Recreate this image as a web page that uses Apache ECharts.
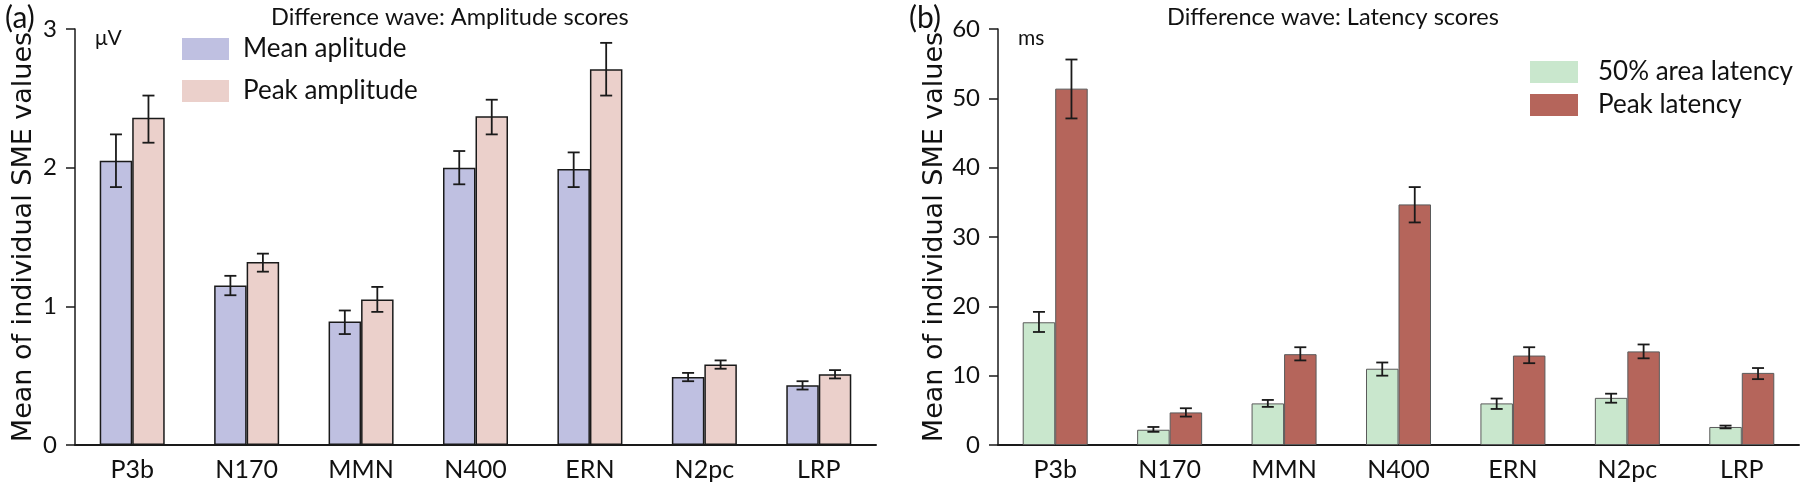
<!DOCTYPE html>
<html>
<head>
<meta charset="utf-8">
<script src="https://cdn.jsdelivr.net/npm/echarts@6/dist/echarts.min.js"></script>
<style>html,body{margin:0;padding:0;background:#fff;}#c{width:1800px;height:487px;}</style>
</head>
<body>
<div id="c"></div>
<script>
var categories = ['P3b', 'N170', 'MMN', 'N400', 'ERN', 'N2pc', 'LRP'];

var meanAmp     = [2.05, 1.15, 0.89, 2.00, 1.99, 0.49, 0.43];
var meanAmpLo   = [1.86, 1.08, 0.80, 1.88, 1.86, 0.46, 0.40];
var meanAmpHi   = [2.24, 1.22, 0.97, 2.12, 2.11, 0.52, 0.46];
var peakAmp     = [2.36, 1.32, 1.05, 2.37, 2.71, 0.58, 0.51];
var peakAmpLo   = [2.18, 1.25, 0.96, 2.24, 2.52, 0.55, 0.48];
var peakAmpHi   = [2.52, 1.38, 1.14, 2.49, 2.90, 0.61, 0.54];

var areaLat     = [17.7, 2.2, 6.0, 11.0, 6.0, 6.8, 2.6];
var areaLatLo   = [16.3, 1.9, 5.5, 10.0, 5.2, 6.1, 2.4];
var areaLatHi   = [19.2, 2.6, 6.5, 11.9, 6.7, 7.4, 2.8];
var peakLat     = [51.4, 4.7, 13.1, 34.7, 12.9, 13.5, 10.4];
var peakLatLo   = [47.1, 4.1, 12.2, 32.1, 11.8, 12.5, 9.5];
var peakLatHi   = [55.6, 5.3, 14.1, 37.2, 14.1, 14.5, 11.1];

var ampTicks = {min: 0, max: 3, interval: 1};
var latTicks = {min: 0, max: 60, interval: 10};

var BAR_W = 32.5;
var FONT = 'Lato, "Open Sans", sans-serif';

function errData(lo, hi) {
  return categories.map(function (c, i) { return [i, lo[i], hi[i]]; });
}
function errRender(offset) {
  return function (params, api) {
    var x = api.value(0), lo = api.value(1), hi = api.value(2);
    var pLo = api.coord([x, lo]), pHi = api.coord([x, hi]);
    var cx = pLo[0] + offset, cap = 6;
    var st = {stroke: '#1a1a1a', lineWidth: 1.8};
    return {type: 'group', children: [
      {type: 'line', shape: {x1: cx, y1: pLo[1], x2: cx, y2: pHi[1]}, style: st},
      {type: 'line', shape: {x1: cx - cap, y1: pHi[1], x2: cx + cap, y2: pHi[1]}, style: st},
      {type: 'line', shape: {x1: cx - cap, y1: pLo[1], x2: cx + cap, y2: pLo[1]}, style: st}
    ]};
  };
}

function xAxisCfg(gi) {
  return {
    type: 'category', gridIndex: gi, data: categories, boundaryGap: true,
    axisLine: {lineStyle: {color: '#1a1a1a', width: 2}},
    axisTick: {alignWithLabel: true, length: 8, lineStyle: {color: '#1a1a1a', width: 1.5}},
    axisLabel: {color: '#111', fontSize: 25, fontFamily: FONT, margin: 12}
  };
}
function yAxisCfg(gi, t, gap) {
  return {
    type: 'value', gridIndex: gi, min: t.min, max: t.max, interval: t.interval,
    name: 'Mean of individual SME values', nameLocation: 'middle', nameGap: gap,
    nameTextStyle: {fontSize: 27, fontFamily: '"DejaVu Sans", Verdana, sans-serif', color: '#111'},
    axisLine: {show: true, lineStyle: {color: '#1a1a1a', width: 1.5}},
    axisTick: {show: true, length: 9, lineStyle: {color: '#1a1a1a', width: 1.5}},
    axisLabel: {color: '#111', fontSize: 24, fontFamily: FONT, margin: 18},
    splitLine: {show: false}
  };
}

var chart = echarts.init(document.getElementById('c'), null, {renderer: 'canvas'});
chart.setOption({
  animation: false,
  backgroundColor: '#fff',
  title: [
    {text: 'Difference wave: Amplitude scores', left: 266, top: 0, textStyle: {fontSize: 23.5, fontWeight: 'normal', fontFamily: FONT, color: '#111'}},
    {text: 'Difference wave: Latency scores', left: 1162, top: 0, textStyle: {fontSize: 23.5, fontWeight: 'normal', fontFamily: FONT, color: '#111'}},
    {text: '(a)', left: 0, top: -2, textStyle: {fontSize: 30, fontWeight: 'normal', fontFamily: FONT, color: '#111'}},
    {text: '(b)', left: 904, top: -2, textStyle: {fontSize: 30, fontWeight: 'normal', fontFamily: FONT, color: '#111'}},
    {text: 'μV', left: 90, top: 23, textStyle: {fontSize: 21, fontWeight: 'normal', fontFamily: FONT, color: '#111'}},
    {text: 'ms', left: 1013, top: 23, textStyle: {fontSize: 21, fontWeight: 'normal', fontFamily: FONT, color: '#111'}}
  ],
  legend: [
    {data: ['Mean aplitude', 'Peak amplitude'], orient: 'vertical', left: 177, top: 31,
     itemWidth: 47, itemHeight: 22, itemGap: 16, icon: 'rect',
     itemStyle: {borderWidth: 0},
     textStyle: {fontSize: 26, lineHeight: 22, fontFamily: FONT, color: '#111', padding: [0, 0, 0, 9]}},
    {data: ['50% area latency', 'Peak latency'], orient: 'vertical', left: 1525, top: 54,
     itemWidth: 48, itemHeight: 22, itemGap: 7, icon: 'rect',
     itemStyle: {borderWidth: 0},
     textStyle: {fontSize: 26, lineHeight: 22, fontFamily: FONT, color: '#111', padding: [0, 0, 0, 15]}}
  ],
  grid: [
    {left: 75, top: 29, width: 801, height: 416},
    {left: 998, top: 29, width: 801, height: 416}
  ],
  xAxis: [xAxisCfg(0), xAxisCfg(1)],
  yAxis: [yAxisCfg(0, ampTicks, 38), yAxisCfg(1, latTicks, 45)],
  series: [
    {name: 'Mean aplitude', type: 'bar', xAxisIndex: 0, yAxisIndex: 0, data: meanAmp,
     barWidth: BAR_W, barGap: '0%', itemStyle: {color: '#bfc0e1', borderColor: '#1a1a1a', borderWidth: 1.5}},
    {name: 'Peak amplitude', type: 'bar', xAxisIndex: 0, yAxisIndex: 0, data: peakAmp,
     barWidth: BAR_W, barGap: '0%', itemStyle: {color: '#ebd0cb', borderColor: '#1a1a1a', borderWidth: 1.5}},
    {type: 'custom', xAxisIndex: 0, yAxisIndex: 0, z: 5, renderItem: errRender(-BAR_W / 2), data: errData(meanAmpLo, meanAmpHi)},
    {type: 'custom', xAxisIndex: 0, yAxisIndex: 0, z: 5, renderItem: errRender(BAR_W / 2), data: errData(peakAmpLo, peakAmpHi)},
    {name: '50% area latency', type: 'bar', xAxisIndex: 1, yAxisIndex: 1, data: areaLat,
     barWidth: BAR_W, barGap: '0%', itemStyle: {color: '#c9e7cd', borderColor: '#5a5a5a', borderWidth: 1}},
    {name: 'Peak latency', type: 'bar', xAxisIndex: 1, yAxisIndex: 1, data: peakLat,
     barWidth: BAR_W, barGap: '0%', itemStyle: {color: '#b5655b', borderColor: '#5a5a5a', borderWidth: 1}},
    {type: 'custom', xAxisIndex: 1, yAxisIndex: 1, z: 5, renderItem: errRender(-BAR_W / 2), data: errData(areaLatLo, areaLatHi)},
    {type: 'custom', xAxisIndex: 1, yAxisIndex: 1, z: 5, renderItem: errRender(BAR_W / 2), data: errData(peakLatLo, peakLatHi)}
  ]
});
</script>
</body>
</html>
